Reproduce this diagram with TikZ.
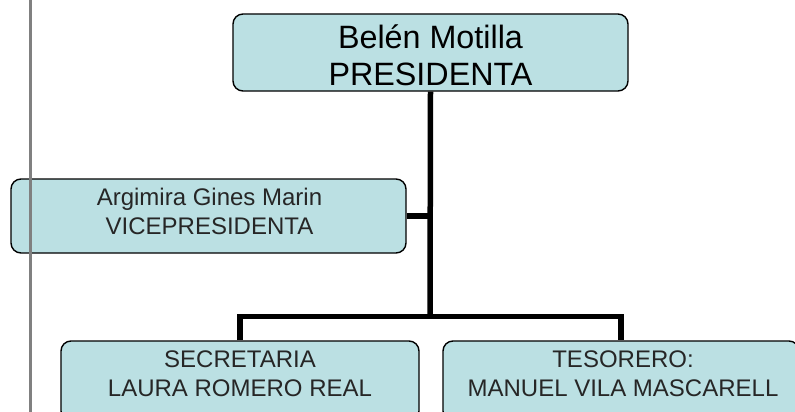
\documentclass[tikz,border=0pt]{standalone}
\usepackage{fontspec}
\setmainfont{Liberation Sans}
\definecolor{boxfill}{HTML}{BBE0E3}
\definecolor{txtgray}{HTML}{262626}
\definecolor{edgegray}{HTML}{808080}
\begin{document}
\begin{tikzpicture}[x=1pt,y=-1pt,
  box/.style={draw=black, line width=1.4pt, fill=boxfill, rounded corners=10pt, inner sep=0pt},
  conn/.style={line width=5.5pt, black},
  bigtxt/.style={font=\fontsize{32.3}{37}\selectfont, align=center, text=black, inner sep=0pt},
  smalltxt/.style={font=\fontsize{24}{28.5}\selectfont, align=center, text=txtgray, inner sep=0pt}]
\useasboundingbox (0,0) rectangle (795,412);
\clip (0,0) rectangle (795,412);
% boxes
\node[box, minimum width=395pt, minimum height=77pt] (pres) at (430.5,52.5) {};
\node[box, minimum width=395pt, minimum height=74pt] (vice) at (208.5,216) {};
\node[box, minimum width=358pt, minimum height=80pt] (sec) at (240,381) {};
\node[box, minimum width=356pt, minimum height=80pt] (tes) at (621,381) {};
% texts
\node[bigtxt] (prestxt) at (430.5,55.5) {Belén Motilla\\PRESIDENTA};
\node[smalltxt] (vicetxt) at (209.5,211.5) {Argimira Gines Marin\\VICEPRESIDENTA};
\node[smalltxt] (sectxt) at (240,373.5) {SECRETARIA\\LAURA ROMERO REAL};
\node[smalltxt] (testxt) at (623,373.5) {TESORERO:\\MANUEL VILA MASCARELL};
% connectors
\coordinate (bus) at (430,316.5);
\draw[conn] (pres.south) -- (bus);
\draw[conn] (sec.north) |- (bus) -| (tes.north);
\draw[conn] (vice.east) -- (vice.east -| pres.south);
% page edge line
\draw[edgegray, line width=3pt] (30,0) -- (30,412);
\end{tikzpicture}
\end{document}
